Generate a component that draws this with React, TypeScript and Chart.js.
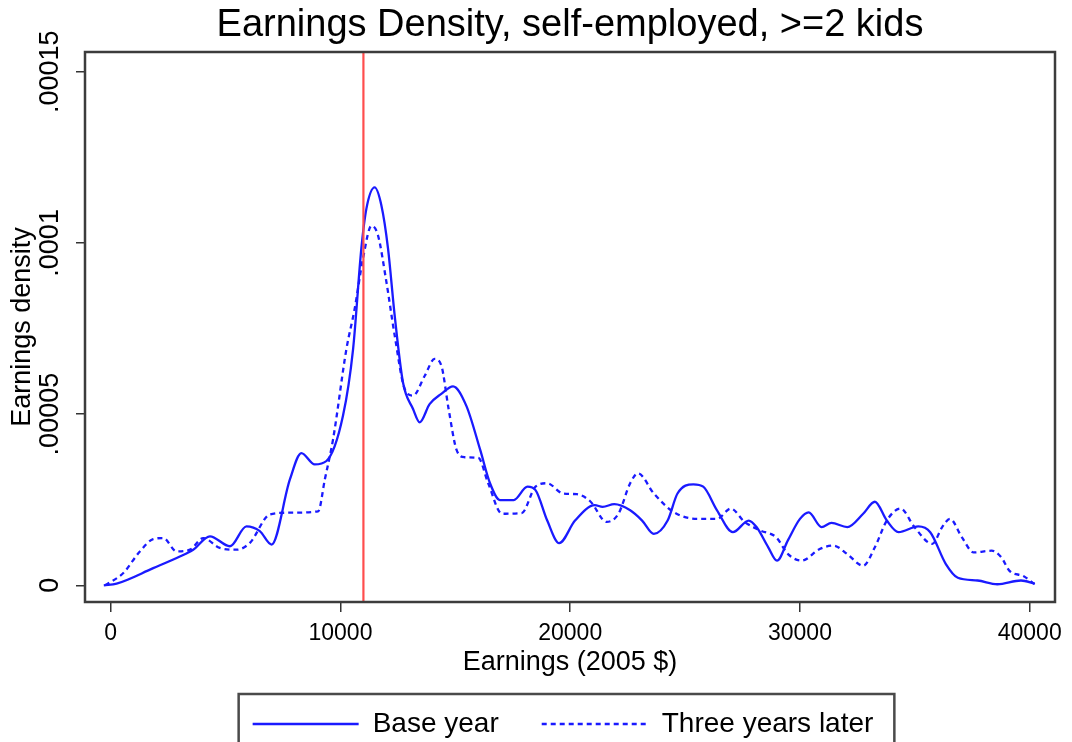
import React, { useEffect, useRef } from 'react';
import { Chart, registerables } from 'chart.js';

Chart.register(...registerables);

// ---- data ----
const seriesNames = ['Base year', 'Three years later'];

const baseX = [-300, 260, 1850, 3010, 3590, 4320, 5190, 5910, 6490, 7000, 7800, 8300, 8880, 9390, 10110, 10550, 10910, 11130, 11490, 11780, 12070, 12360, 12720, 13160, 13450, 13880, 14390, 14900, 15480, 16080, 16510, 16940, 17540, 18140, 18490, 19000, 19520, 20210, 21070, 21410, 21920, 22610, 23130, 23640, 24240, 24670, 25360, 25790, 26390, 27080, 27770, 28110, 28620, 29000, 29480, 30000, 30380, 30940, 31370, 32060, 32750, 33260, 33780, 34290, 35150, 35670, 36350, 36870, 37730, 38590, 39620, 40220];
const baseY = [0, 0.05e-5, 0.5e-5, 0.84e-5, 1.04e-5, 1.43e-5, 1.14e-5, 1.72e-5, 1.58e-5, 1.19e-5, 3.09e-5, 3.86e-5, 3.53e-5, 3.63e-5, 4.95e-5, 6.9e-5, 9.84e-5, 11.0e-5, 11.62e-5, 11.1e-5, 9.84e-5, 7.88e-5, 5.93e-5, 5.15e-5, 4.76e-5, 5.29e-5, 5.59e-5, 5.81e-5, 5.24e-5, 3.96e-5, 2.98e-5, 2.49e-5, 2.49e-5, 2.88e-5, 2.78e-5, 1.89e-5, 1.23e-5, 1.89e-5, 2.34e-5, 2.29e-5, 2.37e-5, 2.19e-5, 1.89e-5, 1.5e-5, 1.89e-5, 2.68e-5, 2.95e-5, 2.88e-5, 2.19e-5, 1.55e-5, 1.89e-5, 1.7e-5, 1.11e-5, 0.72e-5, 1.32e-5, 1.94e-5, 2.13e-5, 1.7e-5, 1.82e-5, 1.7e-5, 2.09e-5, 2.44e-5, 1.89e-5, 1.55e-5, 1.72e-5, 1.55e-5, 0.62e-5, 0.22e-5, 0.14e-5, 0.03e-5, 0.14e-5, 0.05e-5];

const laterX = [-250, 550, 1270, 1850, 2290, 2870, 3450, 4030, 4750, 5480, 6060, 6930, 7800, 9030, 9320, 9680, 10260, 10620, 10980, 11350, 11630, 12000, 12360, 12800, 13160, 13670, 14100, 14390, 14710, 15050, 15400, 16000, 16430, 17030, 17890, 18490, 19000, 19690, 20290, 20890, 21580, 22100, 22610, 22950, 23640, 24500, 25530, 26390, 26990, 27590, 28280, 28970, 29480, 30080, 30860, 31460, 32060, 32750, 33260, 33780, 34380, 34980, 35760, 36190, 36530, 37050, 37560, 38340, 38770, 39120, 39720, 40220];
const laterY = [0, 0.36e-5, 0.99e-5, 1.35e-5, 1.38e-5, 0.99e-5, 1.04e-5, 1.38e-5, 1.09e-5, 1.04e-5, 1.24e-5, 2.07e-5, 2.12e-5, 2.16e-5, 3.09e-5, 4.27e-5, 6.9e-5, 8.08e-5, 9.54e-5, 10.5e-5, 10.23e-5, 8.86e-5, 7.3e-5, 5.73e-5, 5.54e-5, 6.12e-5, 6.61e-5, 6.42e-5, 5.14e-5, 3.96e-5, 3.74e-5, 3.72e-5, 2.98e-5, 2.09e-5, 2.11e-5, 2.88e-5, 2.98e-5, 2.68e-5, 2.66e-5, 2.44e-5, 1.85e-5, 2.09e-5, 2.98e-5, 3.27e-5, 2.68e-5, 2.14e-5, 1.94e-5, 1.94e-5, 2.24e-5, 1.85e-5, 1.6e-5, 1.4e-5, 0.91e-5, 0.72e-5, 1.06e-5, 1.16e-5, 0.91e-5, 0.57e-5, 1.11e-5, 1.89e-5, 2.24e-5, 1.7e-5, 1.21e-5, 1.7e-5, 1.94e-5, 1.4e-5, 0.96e-5, 1.01e-5, 0.81e-5, 0.42e-5, 0.27e-5, 0.03e-5];

const cutoffX = [11000];

const xTickValues = [0, 10000, 20000, 30000, 40000];
const xTickLabels = ['0', '10000', '20000', '30000', '40000'];
const yTickValues = [0, 0.00005, 0.0001, 0.00015];
const yTickLabels = ['0', '.00005', '.0001', '.00015'];

const xRange = [-1118, 41100];
const yRange = [-0.00000488, 0.00015575];

const FONT = '"Liberation Sans", Arial, Helvetica, sans-serif';
const CANVAS_H = 748;
const LEGEND_FONT = 28;
const LEGEND_PAD = 43;
const LEGEND_SHIFT = -7;
const PLOT_BOTTOM = 602;
const BLUE = '#1a1aff';

const framePlugin = {
  id: 'frame',
  afterLayout(chart: any) {
    const legend = chart.legend;
    if (!legend) return;
    legend.left += LEGEND_SHIFT;
    legend.right += LEGEND_SHIFT;
    (legend.legendHitBoxes || []).forEach((hb: any) => {
      hb.left += LEGEND_SHIFT;
    });
  },
  afterDatasetsDraw(chart: any) {
    const { ctx, chartArea } = chart;
    const { left, top, right, bottom } = chartArea;
    ctx.save();
    ctx.strokeStyle = '#3c3c3c';
    ctx.lineWidth = 2.5;
    ctx.strokeRect(left, top, right - left, bottom - top);
    ctx.restore();
  },
  afterDraw(chart: any) {
    const legend = chart.legend;
    if (!legend || !legend.legendHitBoxes || legend.legendHitBoxes.length === 0) return;
    const boxes = legend.legendHitBoxes;
    const first = boxes[0];
    const last = boxes[boxes.length - 1];
    const l = first.left - 14;
    const r = last.left + last.width + 21;
    const t = first.top - 16;
    const b = first.top + first.height + 40;
    const { ctx } = chart;
    ctx.save();
    ctx.strokeStyle = '#4a4a4a';
    ctx.lineWidth = 2.5;
    ctx.strokeRect(l, t, r - l, b - t);
    ctx.restore();
  },
};

export default function App() {
  const canvasRef = useRef<HTMLCanvasElement | null>(null);

  useEffect(() => {
    const canvas = canvasRef.current;
    if (!canvas) return;
    document.body.style.margin = '0';

    const chart = new Chart(canvas, {
      type: 'line',
      data: {
        datasets: [
          {
            label: seriesNames[0],
            data: baseX.map((x, i) => ({ x, y: baseY[i] })),
            borderColor: BLUE,
            backgroundColor: BLUE,
            borderWidth: 2.3,
            pointRadius: 0,
            cubicInterpolationMode: 'monotone',
            fill: false,
            order: 1,
          },
          {
            label: seriesNames[1],
            data: laterX.map((x, i) => ({ x, y: laterY[i] })),
            borderColor: BLUE,
            backgroundColor: BLUE,
            borderWidth: 2.3,
            borderDash: [5, 4],
            pointRadius: 0,
            cubicInterpolationMode: 'monotone',
            fill: false,
            order: 1,
          },
          {
            label: 'cutoff',
            data: [
              { x: cutoffX[0], y: yRange[0] },
              { x: cutoffX[0], y: yRange[1] },
            ],
            borderColor: '#ff4d4d',
            borderWidth: 2.2,
            pointRadius: 0,
            tension: 0,
            fill: false,
            order: 0,
          },
        ],
      },
      options: {
        responsive: false,
        animation: false,
        layout: { padding: { left: 0, right: 17, top: 0, bottom: 0 } },
        plugins: {
          title: {
            display: true,
            text: 'Earnings Density, self-employed, >=2 kids',
            fullSize: false,
            color: '#000',
            font: { family: FONT, size: 38, weight: 'normal', lineHeight: 1.2 },
            padding: { top: 2.4, bottom: 4 },
          },
          legend: {
            display: true,
            position: 'bottom',
            fullSize: false,
            labels: {
              color: '#000',
              font: { family: FONT, size: LEGEND_FONT },
              usePointStyle: false,
              boxWidth: 106,
              boxHeight: 0,
              padding: LEGEND_PAD,
              filter: (item: any) => item.datasetIndex < 2,
            },
          },
          tooltip: { enabled: false },
        },
        scales: {
          x: {
            type: 'linear',
            min: xRange[0],
            max: xRange[1],
            afterBuildTicks: (scale: any) => {
              scale.ticks = xTickValues.map((value) => ({ value }));
            },
            afterFit: (scale: any) => {
              scale.height = CANVAS_H - (LEGEND_FONT + LEGEND_PAD + 10) - PLOT_BOTTOM;
            },
            ticks: {
              color: '#000',
              font: { family: FONT, size: 23 },
              padding: 7.5,
              maxRotation: 0,
              autoSkip: false,
              callback: (value: any) => {
                const i = xTickValues.indexOf(Number(value));
                return i >= 0 ? xTickLabels[i] : '';
              },
            },
            grid: {
              display: true,
              drawOnChartArea: false,
              drawTicks: true,
              tickLength: 10,
              color: '#333',
              lineWidth: 1.5,
            },
            border: { display: false },
            title: {
              display: true,
              text: 'Earnings (2005 $)',
              color: '#000',
              font: { family: FONT, size: 27, lineHeight: 1.2 },
              padding: { top: 0, bottom: -12.2 },
            },
          },
          y: {
            type: 'linear',
            min: yRange[0],
            max: yRange[1],
            afterBuildTicks: (scale: any) => {
              scale.ticks = yTickValues.map((value) => ({ value }));
            },
            afterFit: (scale: any) => {
              scale.width = 85;
            },
            ticks: {
              color: '#000',
              font: { family: FONT, size: 27 },
              minRotation: 90,
              maxRotation: 90,
              crossAlign: 'center',
              padding: -16.2,
              autoSkip: false,
              callback: (value: any, index: number) => yTickLabels[index] ?? '',
            },
            grid: {
              display: true,
              drawOnChartArea: false,
              drawTicks: true,
              tickLength: 9,
              color: '#333',
              lineWidth: 1.5,
            },
            border: { display: false },
            title: {
              display: true,
              text: 'Earnings density',
              color: '#000',
              font: { family: FONT, size: 27, lineHeight: 1.2 },
              padding: { top: 6.5, bottom: 0 },
            },
          },
        },
      } as any,
      plugins: [framePlugin],
    });

    return () => {
      chart.destroy();
    };
  }, []);

  return (
    <div style={{ position: 'absolute', left: 0, top: 0, width: 1072, height: CANVAS_H, background: '#fff' }}>
      <canvas ref={canvasRef} width={1072} height={CANVAS_H} style={{ display: 'block' }} />
    </div>
  );
}
